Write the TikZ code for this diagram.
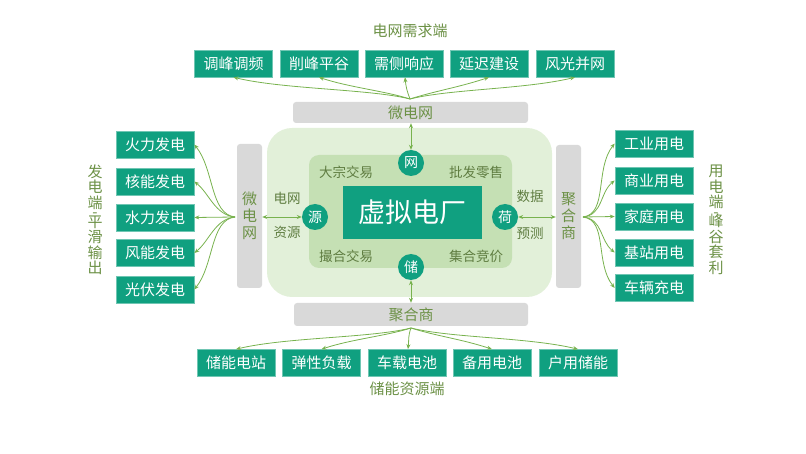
\documentclass[tikz,border=0pt]{standalone}
\usepackage{fontspec}
\setmainfont{Noto Sans CJK SC}
\usetikzlibrary{arrows.meta}
\definecolor{teal1}{RGB}{16,160,128}
\definecolor{arr}{RGB}{120,178,78}
\definecolor{barg}{RGB}{217,217,217}
\definecolor{bartxt}{RGB}{108,145,70}
\definecolor{bigg}{RGB}{226,240,217}
\definecolor{innerg}{RGB}{197,224,180}
\definecolor{lbl}{RGB}{95,125,65}
\tikzset{
  tbox/.style={fill=teal1, draw=teal1!60!white, line width=0.6pt, text=white, minimum width=78pt, minimum height=27pt, inner sep=0pt, font=\fontsize{15}{17}\selectfont},
  bar/.style={fill=barg, rounded corners=3pt, text=bartxt, inner sep=0pt, font=\fontsize{15}{17}\selectfont, align=center},
  circ/.style={circle, fill=teal1, text=white, minimum size=26pt, inner sep=0pt, font=\fontsize{14}{15}\selectfont},
  lab/.style={text=lbl, font=\fontsize{13.5}{15}\selectfont, inner sep=0pt},
  ttl/.style={text=bartxt, font=\fontsize{15}{15.5}\selectfont, inner sep=0pt, align=center},
  fan/.style={draw=arr, line width=0.8pt, -{Stealth[length=5pt,width=4pt]}},
  dfan/.style={draw=arr, line width=0.8pt, {Stealth[length=5pt,width=4pt]}-{Stealth[length=5pt,width=4pt]}}
}
\begin{document}
\begin{tikzpicture}[x=1pt,y=-1pt]
\useasboundingbox (0,0) rectangle (806,454);
% background shapes
\node[fill=bigg, rounded corners=25pt, minimum width=285pt, minimum height=169pt, inner sep=0pt] (big) at (409.5,212.5) {};
\node[fill=innerg, rounded corners=10pt, minimum width=203pt, minimum height=113pt, inner sep=0pt] (inner) at (410.5,211.5) {};
\node[fill=teal1, text=white, minimum width=139pt, minimum height=53pt, inner sep=0pt, font=\fontsize{27}{30}\selectfont] (vpp) at (412.5,212.5) {虚拟电厂};
% circles
\node[circ] (wang) at (411,163) {网};
\node[circ] (yuan) at (315,217) {源};
\node[circ] (he) at (505,217) {荷};
\node[circ] (chu) at (411,267) {储};
% inner labels
\node[lab] (l1) at (346,172) {大宗交易};
\node[lab] (l2) at (476,172) {批发零售};
\node[lab] (l3) at (346,256) {撮合交易};
\node[lab] (l4) at (476,256) {集合竞价};
\node[lab] (l5) at (287,198) {电网};
\node[lab] (l6) at (287,232) {资源};
\node[lab] (l7) at (530,196) {数据};
\node[lab] (l8) at (530,233) {预测};
% bars
\node[bar, minimum width=235pt, minimum height=21pt] (topbar) at (410.5,112.5) {微电网};
\node[bar, minimum width=234pt, minimum height=23pt] (botbar) at (411,314.5) {聚合商};
\node[bar, minimum width=25pt, minimum height=144pt] (lbar) at (249.5,216) {微\\电\\网};
\node[bar, minimum width=25pt, minimum height=143pt] (rbar) at (568.5,216.5) {聚\\合\\商};
% titles
\node[ttl] (ttop) at (410,31) {电网需求端};
\node[ttl] (tbot) at (407,389) {储能资源端};
\node[ttl] (tleft) at (95,220) {发\\电\\端\\[-6pt]-\\[-6pt]平\\滑\\输\\出};
\node[ttl] (tright) at (716,220) {用\\电\\端\\[-6pt]-\\[-6pt]峰\\谷\\套\\利};
% top boxes
\node[tbox] (t1) at (233.5,63.5) {调峰调频};
\node[tbox] (t2) at (319,63.5) {削峰平谷};
\node[tbox] (t3) at (404,63.5) {需侧响应};
\node[tbox] (t4) at (489,63.5) {延迟建设};
\node[tbox] (t5) at (575,63.5) {风光并网};
% bottom boxes
\node[tbox] (b1) at (236,363) {储能电站};
\node[tbox] (b2) at (321.5,363) {弹性负载};
\node[tbox] (b3) at (407,363) {车载电池};
\node[tbox] (b4) at (492,363) {备用电池};
\node[tbox] (b5) at (578,363) {户用储能};
% left boxes
\node[tbox] (g1) at (155,144.5) {火力发电};
\node[tbox] (g2) at (155,181.5) {核能发电};
\node[tbox] (g3) at (155,217.5) {水力发电};
\node[tbox] (g4) at (155,253) {风能发电};
\node[tbox] (g5) at (155,289.5) {光伏发电};
% right boxes
\node[tbox] (u1) at (654,143.5) {工业用电};
\node[tbox] (u2) at (654,180.5) {商业用电};
\node[tbox] (u3) at (654,216.5) {家庭用电};
\node[tbox] (u4) at (654,252.5) {基站用电};
\node[tbox] (u5) at (654,288) {车辆充电};
% fan origins
\coordinate (ot) at (410,99);
\coordinate (ob) at (411,328);
\coordinate (ol) at (235,217);
\coordinate (or) at (583,217);
% top fan
\draw[fan] (ot) .. controls +(-40,-10) and +(50,12) .. (t1.south);
\draw[fan] (ot) .. controls +(-25,-8) and +(30,10) .. (t2.south);
\draw[fan] (ot) .. controls +(-3,-8) and +(1,10) .. ([xshift=1pt]t3.south);
\draw[fan] (ot) .. controls +(25,-8) and +(-30,10) .. (t4.south);
\draw[fan] (ot) .. controls +(40,-10) and +(-50,12) .. (t5.south);
% bottom fan
\draw[fan] (ob) .. controls +(-40,10) and +(50,-12) .. (b1.north);
\draw[fan] (ob) .. controls +(-25,8) and +(30,-10) .. (b2.north);
\draw[fan] (ob) .. controls +(-3,8) and +(1,-10) .. ([xshift=1pt]b3.north);
\draw[fan] (ob) .. controls +(25,8) and +(-30,-10) .. (b4.north);
\draw[fan] (ob) .. controls +(40,10) and +(-50,-12) .. (b5.north);
% left fan
\draw[fan] (ol) .. controls +(-25,-3) and +(20,25) .. (g1.east);
\draw[fan] (ol) .. controls +(-20,-2) and +(15,12) .. (g2.east);
\draw[fan] (ol) -- (g3.east);
\draw[fan] (ol) .. controls +(-20,2) and +(15,-12) .. (g4.east);
\draw[fan] (ol) .. controls +(-25,3) and +(20,-25) .. (g5.east);
% right fan
\draw[fan] (or) .. controls +(25,-3) and +(-20,25) .. (u1.west);
\draw[fan] (or) .. controls +(20,-2) and +(-15,12) .. (u2.west);
\draw[fan] (or) -- (u3.west);
\draw[fan] (or) .. controls +(20,2) and +(-15,-12) .. (u4.west);
\draw[fan] (or) .. controls +(25,3) and +(-20,-25) .. (u5.west);
% center connectors
\draw[dfan] (topbar.south -| wang) -- (wang.north);
\draw[dfan] (chu.south) -- (botbar.north -| chu);
\draw[dfan] (lbar.east |- yuan) -- (yuan.west);
\draw[dfan] (he.east) -- (rbar.west |- he);
\end{tikzpicture}
\end{document}
